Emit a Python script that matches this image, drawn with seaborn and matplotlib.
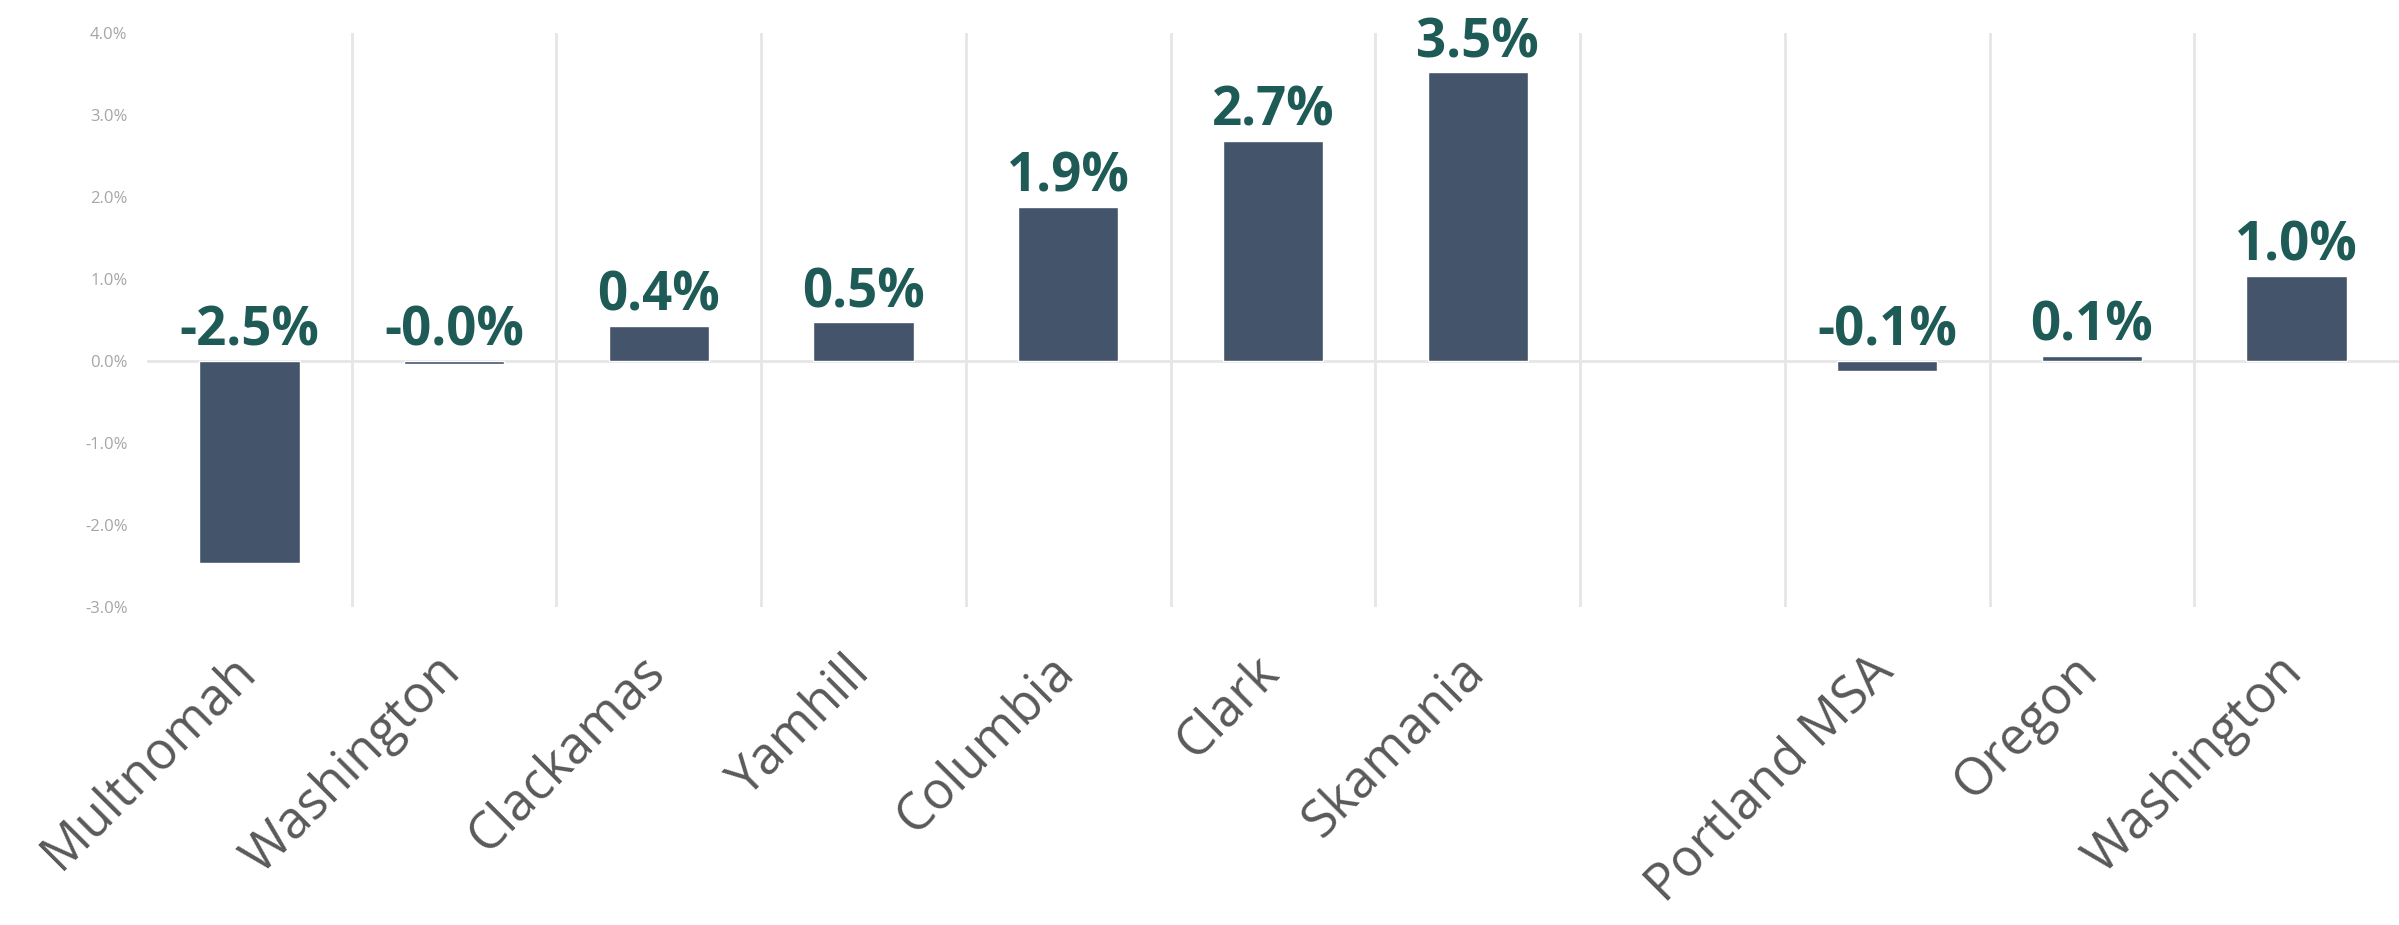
import numpy as np
import pandas as pd
import matplotlib
matplotlib.use("Agg")
import matplotlib.pyplot as plt
import matplotlib.transforms as mtransforms
import seaborn as sns

# Percent change by county and by wider area
counties = ["Multnomah", "Washington", "Clackamas", "Yamhill", "Columbia", "Clark", "Skamania"]
county_change = [-2.46, -0.04, 0.43, 0.47, 1.88, 2.68, 3.52]
areas = ["Portland MSA", "Oregon", "Washington"]
area_change = [-0.12, 0.06, 1.04]
y_ticks = [-3, -2, -1, 0, 1, 2, 3, 4]

BAR = "#44546A"
VALUE = "#1E5B57"
TICK = "#595959"
GRID = "#E6E6E6"

sns.set_theme(style="white")
plt.rcParams["font.family"] = ["Open Sans", "DejaVu Sans"]

# unique keys per slot, with an empty spacer slot between the two groups
county_keys = [f"c{i}" for i in range(len(counties))]
area_keys = [f"a{i}" for i in range(len(areas))]
spacer = "gap"
order = county_keys + [spacer] + area_keys
names = counties + [""] + areas

df = pd.DataFrame({
    "slot": county_keys + area_keys,
    "change": county_change + area_change,
})

fig = plt.figure(figsize=(23.99, 9.25), dpi=100)
ax = fig.add_axes([147 / 2399, 1 - 607 / 925, 1 - 147 / 2399, (607 - 33) / 925])

sns.barplot(data=df, x="slot", y="change", order=order, color=BAR,
            saturation=1, width=0.49, ax=ax, zorder=3)

ax.set_xlim(-0.5, len(order) - 0.5)
ax.set_ylim(-3, 4)
ax.axhline(0, color=GRID, lw=2, zorder=2)

# separators between category slots
ax.set_xticks(np.arange(0.5, len(order) - 1, 1), minor=True)
ax.grid(False)
ax.grid(which="minor", axis="x", color=GRID, lw=2, zorder=0)
ax.tick_params(axis="x", which="minor", length=0)

ax.set_yticks(y_ticks)
ax.set_yticklabels([f"{t:.1f}%" for t in y_ticks], fontsize=12, color="#A6A6A6")
ax.tick_params(axis="y", length=0, pad=14)

ax.set_xticks(range(len(order)))
ax.set_xticklabels(names, rotation=45, ha="right", va="baseline",
                   rotation_mode="anchor", fontsize=37, color=TICK)
ax.tick_params(axis="x", which="major", length=0, pad=48)
shift = mtransforms.ScaledTranslation(0.08, 0, fig.dpi_scale_trans)
for lab in ax.get_xticklabels():
    lab.set_transform(lab.get_transform() + shift)

ax.set_xlabel("")
ax.set_ylabel("")
for s in ax.spines.values():
    s.set_visible(False)

# value labels above each bar (above the zero line for negative bars)
for slot, v in zip(df["slot"], df["change"]):
    i = order.index(slot)
    ax.annotate(f"{v:.1f}%", xy=(i, max(v, 0)), xytext=(0, 11),
                textcoords="offset points", ha="center", va="baseline",
                fontsize=38, fontweight="bold", color=VALUE, zorder=4)

fig.savefig("out.png", dpi=100, facecolor="white")
